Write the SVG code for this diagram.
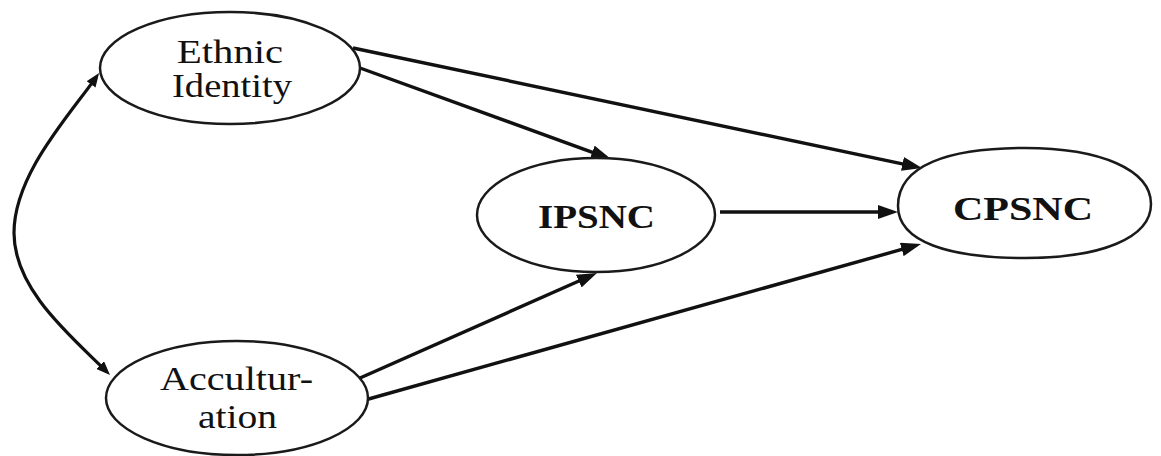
<svg xmlns="http://www.w3.org/2000/svg" width="1161" height="456" viewBox="0 0 1161 456">
  <style>
    .node { fill: #ffffff; stroke: #1a1a1a; stroke-width: 2.5; }
    .lbl { font-family: "Liberation Serif", "Times New Roman", serif; font-size: 33px; fill: #111111; text-anchor: middle; }
    .lblb { font-family: "Liberation Serif", "Times New Roman", serif; font-size: 34px; font-weight: bold; fill: #111111; text-anchor: middle; }
    .edge { fill: none; stroke: #111111; stroke-width: 3.4; marker-end: url(#ah); }
    .cov { fill: none; stroke: #111111; stroke-width: 3.2; marker-start: url(#ahs); marker-end: url(#ahs); }
  </style>
  <defs>
    <marker id="ah" markerUnits="userSpaceOnUse" markerWidth="20" markerHeight="14" refX="12" refY="7" orient="auto">
      <path d="M0,0 L20,7 L0,14 z" fill="#111111"/>
    </marker>
    <marker id="ahs" markerUnits="userSpaceOnUse" markerWidth="14" markerHeight="11" refX="9" refY="5.5" orient="auto-start-reverse">
      <path d="M0,0 L14,5.5 L0,11 z" fill="#111111"/>
    </marker>
  </defs>

  <rect width="1161" height="456" fill="#ffffff"/>

  <!-- connectors -->
  <g id="connectors">
    <!-- covariance between the two exogenous factors -->
    <path class="cov" d="M96.2,77.1 C68,117 14,175 14,233 C14,290 72,337 106.5,371.5"/>
    <line class="edge" x1="353" y1="48" x2="914.2" y2="166.3"/>
    <line class="edge" x1="360" y1="68" x2="603.5" y2="156.3"/>
    <line class="edge" x1="720" y1="212" x2="890" y2="212"/>
    <line class="edge" x1="360" y1="378" x2="589.7" y2="276.2"/>
    <line class="edge" x1="365" y1="400" x2="913.3" y2="246.2"/>
  </g>

  <!-- nodes -->
  <g id="ethnic-identity">
    <ellipse class="node" cx="230" cy="68" rx="130" ry="56"/>
    <text class="lbl" x="230" y="63" textLength="106" lengthAdjust="spacingAndGlyphs">Ethnic</text>
    <text class="lbl" x="232" y="97" textLength="120" lengthAdjust="spacingAndGlyphs">Identity</text>
  </g>

  <g id="ipsnc">
    <ellipse class="node" cx="596" cy="215" rx="119" ry="57"/>
    <text class="lblb" x="596.5" y="228" textLength="117" lengthAdjust="spacingAndGlyphs">IPSNC</text>
  </g>

  <g id="cpsnc">
    <path class="node" d="M898,206 C898,165 949,148 1025,148 C1101,148 1151,170 1151,204 C1151,238 1101,258 1025,258 C949,258 898,242 898,206 Z"/>
    <text class="lblb" x="1023" y="220" textLength="140" lengthAdjust="spacingAndGlyphs">CPSNC</text>
  </g>

  <g id="acculturation">
    <ellipse class="node" cx="237" cy="398" rx="131" ry="57"/>
    <text class="lbl" x="236.5" y="390" textLength="153" lengthAdjust="spacingAndGlyphs">Accultur-</text>
    <text class="lbl" x="237.5" y="428" textLength="79" lengthAdjust="spacingAndGlyphs">ation</text>
  </g>
</svg>
